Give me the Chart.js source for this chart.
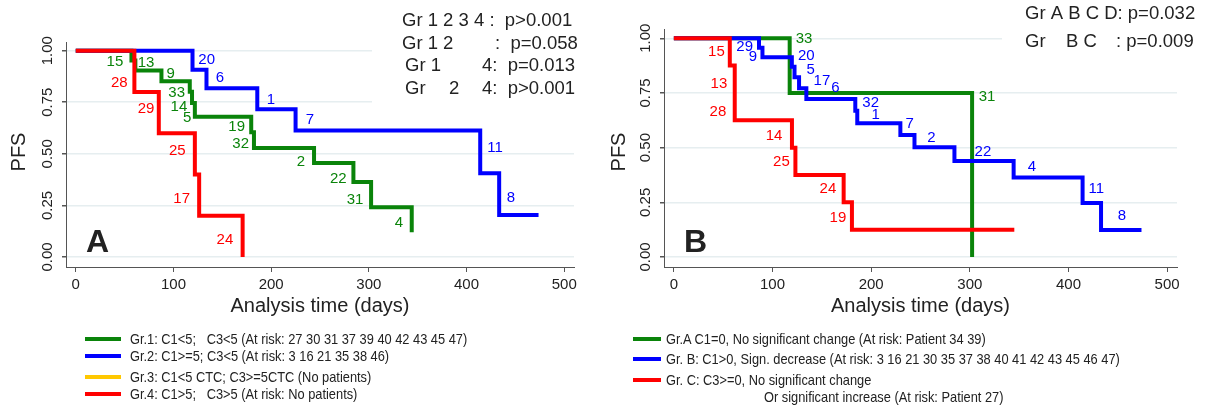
<!DOCTYPE html>
<html>
<head>
<meta charset="utf-8">
<script src="https://cdn.jsdelivr.net/npm/chart.js@4.4.1/dist/chart.umd.min.js"></script>
<style>
  body { margin: 0; background: #fff; }
  #wrap { position: relative; width: 1215px; height: 409px; overflow: hidden; font-family: "Liberation Sans", Arial, Helvetica, sans-serif; color: #222; }
  canvas { position: absolute; top: 0; }
  #chartA { left: 0; }
  #chartB { left: 600px; }
  .key { position: absolute; height: 4px; }
  .txt { position: absolute; font-size: 15px; line-height: 18px; white-space: pre; transform: scaleX(0.855); transform-origin: 0 50%; }
</style>
</head>
<body>
<div id="wrap">
  <canvas id="chartA" width="600" height="409"></canvas>
  <canvas id="chartB" width="615" height="409"></canvas>
</div>
<script>
// axis ticks
const dayTicks = [0, 100, 200, 300, 400, 500];
const pfsTicks = [0, 0.25, 0.5, 0.75, 1];
const pfsTickLabels = ["0.00", "0.25", "0.50", "0.75", "1.00"];

// panel A: Kaplan-Meier steps (day, PFS after the event)
const daysA1 = [0, 57, 61, 87.7, 116.7, 119, 121.9, 179.6, 182.4, 243.9, 284.2, 302.3, 343.9];
const pfsA1 = [1, 0.952, 0.904, 0.852, 0.801, 0.746, 0.680, 0.605, 0.528, 0.455, 0.363, 0.241, 0.12];
const daysA2 = [0, 119.5, 133.8, 185.8, 225, 414, 433.4, 473.7];
const pfsA2 = [1, 0.908, 0.818, 0.716, 0.613, 0.406, 0.204, 0.204];
const daysA4 = [0, 60, 85, 121.9, 126.3, 170.8];
const pfsA4 = [1, 0.8, 0.6, 0.4, 0.2, 0];

// panel B
const daysB1 = [0, 117.4, 302.3];
const pfsB1 = [1, 0.75, 0];
const daysB2 = [0, 86.3, 89.8, 119.6, 122.3, 126.9, 134.3, 183.9, 185.9, 229.6, 243.9, 284.4, 344.4, 414.3, 433, 474];
const pfsB2 = [1, 0.957, 0.913, 0.87, 0.822, 0.771, 0.722, 0.669, 0.611, 0.558, 0.502, 0.439, 0.364, 0.247, 0.123, 0.123];
const daysB3 = [0, 56.7, 61.7, 119.7, 123.2, 172.1, 180.5, 345.1];
const pfsB3 = [1, 0.875, 0.625, 0.5, 0.375, 0.25, 0.125, 0.125];

// patient ids next to the steps: [id, day, pfs]
const idsA1 = [["15", 40.1, 0.947], ["13", 71.9, 0.94], ["9", 97.1, 0.887], ["33", 103.3, 0.796], ["14", 105.6, 0.726], ["5", 114.1, 0.672],
  ["19", 164.7, 0.632], ["32", 168.8, 0.548], ["2", 230.5, 0.462], ["22", 268.7, 0.377], ["31", 285.8, 0.276], ["4", 330.8, 0.166]];
const idsA2 = [["20", 134, 0.955], ["6", 147.6, 0.866], ["1", 199.8, 0.761], ["7", 239.7, 0.664], ["11", 429.1, 0.53], ["8", 445.5, 0.285]];
const idsA4 = [["28", 44.5, 0.842], ["29", 71.9, 0.716], ["25", 103.9, 0.515], ["17", 108.4, 0.28], ["24", 152.7, 0.082]];
const idsB1 = [["33", 131.9, 0.995], ["31", 317.4, 0.733]];
const idsB2 = [["29", 71.8, 0.962], ["9", 80.2, 0.913], ["20", 134.3, 0.919], ["5", 138.7, 0.855], ["17", 150.1, 0.806], ["6", 163.7, 0.771],
  ["32", 199.5, 0.703], ["1", 204.6, 0.649], ["7", 239, 0.608], ["2", 261, 0.543], ["22", 313.3, 0.479], ["4", 363, 0.41],
  ["11", 428.3, 0.31], ["8", 454.2, 0.187]];
const idsB3 = [["15", 43.1, 0.936], ["13", 45.7, 0.79], ["28", 44.7, 0.664], ["14", 101.5, 0.553], ["25", 109, 0.436], ["24", 156.2, 0.31], ["19", 166.3, 0.177]];

const legendA = [
  "Gr.1: C1<5;   C3<5 (At risk: 27 30 31 37 39 40 42 43 45 47)",
  "Gr.2: C1>=5; C3<5 (At risk: 3 16 21 35 38 46)",
  "Gr.3: C1<5 CTC; C3>=5CTC (No patients)",
  "Gr.4: C1>5;   C3>5 (At risk: No patients)"
];
const legendB = [
  "Gr.A C1=0, No significant change (At risk: Patient 34 39)",
  "Gr. B: C1>0, Sign. decrease (At risk: 3 16 21 30 35 37 38 40 41 42 43 45 46 47)",
  "Gr. C: C3>=0, No significant change",
  "Or significant increase (At risk: Patient 27)"
];

const FONT = '"Liberation Sans", Arial, Helvetica, sans-serif';
const INK = "#222";
const GREEN = "#0a840a", BLUE = "#0000ff", RED = "#ff0000", GOLD = "#ffc800";

const toPoints = (days, pfs) => days.map((d, i) => ({ x: d, y: pfs[i] }));

const decor = {
  id: "decor",
  beforeDatasetsDraw(chart, args, o) {
    const c = chart.ctx;
    c.save();
    c.fillStyle = "#fff";
    c.fillRect(o.box[0], o.box[1], o.box[2], o.box[3]);
    c.restore();
  },
  afterDatasetsDraw(chart, args, o) {
    const c = chart.ctx;
    const { x, y } = chart.scales;
    const a = chart.chartArea;
    c.save();
    c.textAlign = "center";
    c.textBaseline = "middle";
    c.fillStyle = INK;

    c.font = "15px " + FONT;
    pfsTicks.forEach((v, i) => {
      c.save();
      c.translate(a.left - 18, y.getPixelForValue(v));
      c.rotate(-Math.PI / 2);
      c.fillText(pfsTickLabels[i], 0, 0);
      c.restore();
    });

    c.font = "20px " + FONT;
    c.save();
    c.translate(o.pfsX, 152);
    c.rotate(-Math.PI / 2);
    c.fillText("PFS", 0, 0);
    c.restore();
    c.fillText("Analysis time (days)", (a.left + a.right) / 2, 306);

    c.font = "bold 32px " + FONT;
    c.fillText(o.letter, o.letterX, 243);

    c.font = "18.5px " + FONT;
    c.textAlign = "left";
    o.notes.forEach(n => c.fillText(n[0], n[1], n[2]));

    c.font = "15px " + FONT;
    c.textAlign = "center";
    o.marks.forEach(m => {
      c.fillStyle = m.color;
      m.ids.forEach(p => c.fillText(p[0], x.getPixelForValue(p[1]), y.getPixelForValue(p[2])));
    });
    c.restore();
  }
};

function panel(id, cfg) {
  const W = cfg.width, XH = 30;
  return new Chart(document.getElementById(id), {
    type: "line",
    data: {
      datasets: cfg.series.map(s => ({
        data: toPoints(s.days, s.pfs),
        borderColor: s.color,
        borderWidth: 4,
        stepped: true,
        pointRadius: 0,
        fill: false,
        borderCapStyle: "butt",
        borderJoinStyle: "miter",
        order: s.order
      }))
    },
    options: {
      responsive: false,
      animation: false,
      events: [],
      layout: { padding: { left: 0, right: W - cfg.area.right, top: cfg.area.top, bottom: 409 - cfg.area.bottom - XH } },
      plugins: {
        legend: { display: false },
        tooltip: { enabled: false },
        decor: cfg.decor
      },
      scales: {
        x: {
          type: "linear",
          min: -10,
          max: 510,
          afterBuildTicks: s => { s.ticks = dayTicks.map(v => ({ value: v })); },
          afterFit: s => { s.height = XH; },
          border: { color: "#555", width: 1 },
          grid: { drawOnChartArea: false, tickLength: 5, tickColor: "#555" },
          ticks: { color: INK, font: { family: FONT, size: 15 }, padding: 4, maxRotation: 0 }
        },
        y: {
          type: "linear",
          min: cfg.yMin,
          max: cfg.yMax,
          afterBuildTicks: s => { s.ticks = pfsTicks.map(v => ({ value: v })); },
          afterFit: s => { s.width = cfg.area.left; },
          border: { color: "#555", width: 1 },
          grid: { color: "#e6eef0", lineWidth: 1.5, tickLength: 4, tickColor: "#555" },
          ticks: { display: false }
        }
      }
    },
    plugins: [decor]
  });
}

panel("chartA", {
  width: 600,
  area: { left: 66, right: 574, top: 42, bottom: 267 },
  yMin: -0.0485, yMax: 1.042,
  series: [
    { days: daysA1, pfs: pfsA1, color: GREEN, order: 2 },
    { days: daysA2, pfs: pfsA2, color: BLUE, order: 1 },
    { days: daysA4, pfs: pfsA4, color: RED, order: 0 }
  ],
  decor: {
    box: [372, 0, 228, 108],
    pfsX: 19, letter: "A", letterX: 97.5,
    notes: [
      ["Gr 1 2 3 4 :  p>0.001", 402, 21],
      ["Gr 1 2", 402, 44], [":  p=0.058", 495, 44],
      ["Gr 1", 405, 66], ["4:  p=0.013", 482, 66],
      ["Gr", 405, 88.5], ["2", 449, 88.5], ["4:  p>0.001", 482, 88.5]
    ],
    marks: [
      { color: GREEN, ids: idsA1 },
      { color: BLUE, ids: idsA2 },
      { color: RED, ids: idsA4 }
    ]
  }
});

panel("chartB", {
  width: 615,
  area: { left: 64, right: 577, top: 29.5, bottom: 267 },
  yMin: -0.0457, yMax: 1.040,
  series: [
    { days: daysB1, pfs: pfsB1, color: GREEN, order: 2 },
    { days: daysB2, pfs: pfsB2, color: BLUE, order: 1 },
    { days: daysB3, pfs: pfsB3, color: RED, order: 0 }
  ],
  decor: {
    box: [402, 0, 213, 62],
    pfsX: 19.5, letter: "B", letterX: 95.5,
    notes: [
      ["Gr A B C D: p=0.032", 425, 14],
      ["Gr", 425, 42], ["B C", 466, 42], [": p=0.009", 516, 42]
    ],
    marks: [
      { color: GREEN, ids: idsB1 },
      { color: BLUE, ids: idsB2 },
      { color: RED, ids: idsB3 }
    ]
  }
});

// legends below the panels
const wrap = document.getElementById("wrap");
function addKey(color, left, width, cy) {
  const k = document.createElement("div");
  k.className = "key";
  k.style.cssText = `left:${left}px;top:${cy - 2}px;width:${width}px;background:${color}`;
  wrap.appendChild(k);
}
function addText(text, left, cy) {
  const t = document.createElement("div");
  t.className = "txt";
  t.style.left = left + "px";
  t.style.top = (cy - 9) + "px";
  t.textContent = text;
  wrap.appendChild(t);
}
const rowsA = [338.5, 356, 377, 394];
[GREEN, BLUE, GOLD, RED].forEach((col, i) => {
  addKey(col, 85, 36, rowsA[i]);
  addText(legendA[i], 130, rowsA[i]);
});
const rowsB = [338.5, 358.5, 379.5];
[GREEN, BLUE, RED].forEach((col, i) => {
  addKey(col, 633, 28, rowsB[i]);
  addText(legendB[i], 666, rowsB[i]);
});
addText(legendB[3], 764, 396.5);
</script>
</body>
</html>
